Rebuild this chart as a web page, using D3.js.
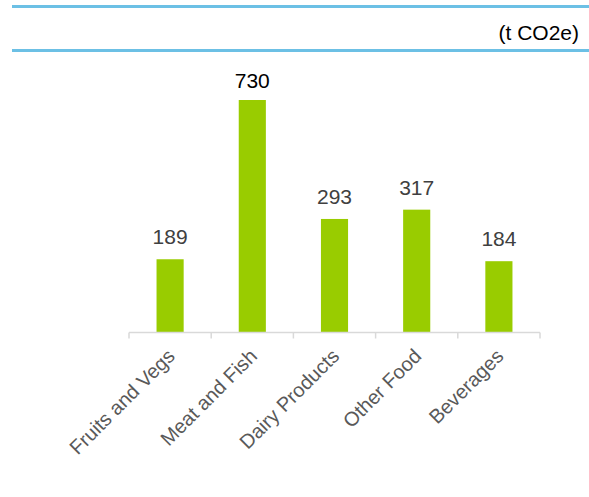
<!DOCTYPE html>
<html><head><meta charset="utf-8">
<script src="https://cdn.jsdelivr.net/npm/d3@7"></script>
<style>body{margin:0;background:#fff}svg{display:block;font-family:"Liberation Sans",Arial,sans-serif}</style>
</head><body>
<svg id="c" width="589" height="497"></svg>
<script>
const categories = ["Fruits and Vegs","Meat and Fish","Dairy Products","Other Food","Beverages"];
const values = [189,730,293,317,184];
const yDomain = [0,600];
const unitLabel = "(t CO2e)";

const svg = d3.select("#c");
const x = d3.scaleBand().domain(categories).range([129,540]).paddingInner(0.67).paddingOuter(0.335);
const y = d3.scaleLinear().domain(yDomain).range([332.5,100]).clamp(true);

// header lines
svg.append("line").attr("x1",12).attr("x2",589).attr("y1",6.5).attr("y2",6.5).attr("stroke","#6cc0e5").attr("stroke-width",3);
svg.append("line").attr("x1",12).attr("x2",589).attr("y1",50.5).attr("y2",50.5).attr("stroke","#6cc0e5").attr("stroke-width",3);
svg.append("text").attr("x",579).attr("y",40).attr("text-anchor","end").attr("font-size",21).attr("fill","#000").text(unitLabel);

// bars
svg.selectAll("rect.bar").data(values).join("rect").attr("class","bar")
  .attr("x",(d,i)=>x(categories[i])).attr("width",x.bandwidth())
  .attr("y",d=>y(d)).attr("height",d=>y(0)-y(d)).attr("fill","#99cc00");

// value labels
svg.selectAll("text.val").data(values).join("text").attr("class","val")
  .attr("x",(d,i)=>x(categories[i])+x.bandwidth()/2)
  .attr("y",d=>d>yDomain[1]?y(d)-12:y(d)-15)
  .attr("text-anchor","middle").attr("font-size",21)
  .attr("fill",d=>d>yDomain[1]?"#000":"#404040").text(d=>d);

// axis
const ax = svg.append("g").attr("transform","translate(0,332.5)");
const step = x.step();
ax.append("line").attr("x1",129).attr("x2",540).attr("stroke","#d9d9d9").attr("stroke-width",1.5);
ax.selectAll("line.tk").data(d3.range(categories.length+1)).join("line").attr("class","tk")
  .attr("x1",i=>129+i*step).attr("x2",i=>129+i*step).attr("y1",0).attr("y2",6)
  .attr("stroke","#d9d9d9").attr("stroke-width",1.5);
ax.selectAll("text.cat").data(categories).join("text").attr("class","cat")
  .attr("transform",d=>`translate(${x(d)+x.bandwidth()/2+6},25) rotate(-45)`)
  .attr("text-anchor","end").attr("font-size",20).attr("fill","#595959").text(d=>d);
</script>
</body></html>
